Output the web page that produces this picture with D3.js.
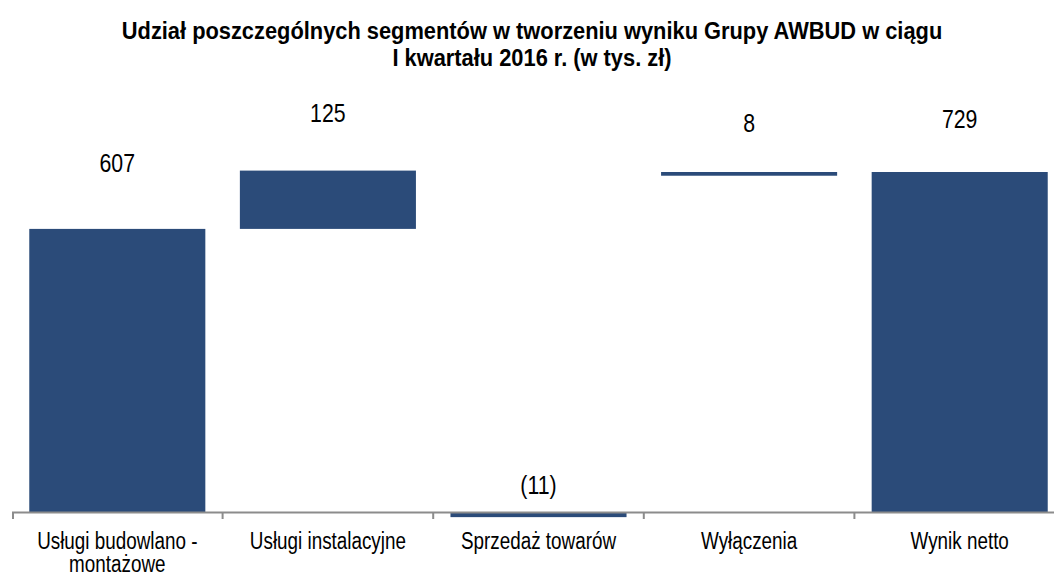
<!DOCTYPE html>
<html>
<head>
<meta charset="utf-8">
<script src="https://cdn.jsdelivr.net/npm/d3@7/dist/d3.min.js"></script>
<style>
  body { margin: 0; background: #fff; }
  svg { display: block; }
  text { font-family: "Liberation Sans", Arial, sans-serif; fill: #000; }
</style>
</head>
<body>
<svg></svg>
<script>
// segment names (first one wraps onto two lines)
var categories = ["Usługi budowlano - montażowe", "Usługi instalacyjne", "Sprzedaż towarów", "Wyłączenia", "Wynik netto"];
var categoryLines = [["Usługi budowlano -", "montażowe"], ["Usługi instalacyjne"], ["Sprzedaż towarów"], ["Wyłączenia"], ["Wynik netto"]];
// contribution of each segment (tys. zł)
var values = [607, 125, -11, 8, 729];
// level each bar starts from, as drawn in the picture
var bases = [0, 607, 0, 721, 0];
// vertical nudge of the value labels above the bar tops
var labelDy = [-57, -49, -18, -40, -44];

var titleLines = ["Udział poszczególnych segmentów w tworzeniu wyniku Grupy AWBUD w ciągu",
                  "I kwartału 2016 r. (w tys. zł)"];

var width = 1054, height = 575;
var narrow = 0.82; // squeeze to imitate a condensed face
var svg = d3.select("svg").attr("width", width).attr("height", height);

var x = d3.scaleBand()
    .domain(categories)
    .range([12, 1065])
    .paddingInner(0.164)
    .paddingOuter(0.082);

var y = d3.scaleLinear()
    .domain([0, 729])
    .range([512, 172]);

function fmt(v) {
  return v < 0 ? "(" + Math.abs(v) + ")" : String(v);
}

function place(px, py, sx) {
  return "translate(" + px + "," + py + ") scale(" + (sx || narrow) + ",1)";
}

// title
svg.append("text")
    .attr("transform", place(532, 39, 0.91))
    .attr("text-anchor", "middle")
    .style("font-weight", "bold")
    .style("font-size", "24px")
    .selectAll("tspan")
    .data(titleLines)
    .enter()
    .append("tspan")
    .attr("x", 0)
    .attr("dy", function (d, i) { return i === 0 ? 0 : 27; })
    .text(function (d) { return d; });

// bars
svg.selectAll("rect.bar")
  .data(categories)
  .enter()
  .append("rect")
  .attr("class", "bar")
  .attr("x", function (d) { return x(d); })
  .attr("width", x.bandwidth())
  .attr("y", function (d, i) {
    var a = bases[i], b = bases[i] + values[i];
    return Math.min(y(a), y(b));
  })
  .attr("height", function (d, i) {
    var a = bases[i], b = bases[i] + values[i];
    return Math.abs(y(a) - y(b));
  })
  .attr("fill", "#2b4b79");

// axis line and ticks at band boundaries
var half = x.step() * x.paddingInner() / 2;
svg.append("line")
    .attr("x1", x.range()[0])
    .attr("x2", width)
    .attr("y1", y(0) + 0.5)
    .attr("y2", y(0) + 0.5)
    .attr("stroke", "#8c8c8c")
    .attr("stroke-width", 2);

svg.selectAll("line.tick")
  .data(categories)
  .enter()
  .append("line")
  .attr("class", "tick")
  .attr("x1", function (d, i) { return i === 0 ? x.range()[0] + 1 : x(d) - half; })
  .attr("x2", function (d, i) { return i === 0 ? x.range()[0] + 1 : x(d) - half; })
  .attr("y1", y(0))
  .attr("y2", y(0) + 7)
  .attr("stroke", "#8c8c8c")
  .attr("stroke-width", 2);

// value labels
svg.selectAll("text.value")
  .data(categories)
  .enter()
  .append("text")
  .attr("class", "value")
  .attr("transform", function (d, i) {
    var top = Math.max(0, bases[i], bases[i] + values[i]);
    return place(x(d) + x.bandwidth() / 2, y(top) + labelDy[i]);
  })
  .attr("text-anchor", "middle")
  .style("font-size", "26px")
  .text(function (d, i) { return fmt(values[i]); });

// category labels
svg.selectAll("text.cat")
  .data(categories)
  .enter()
  .append("text")
  .attr("class", "cat")
  .attr("text-anchor", "middle")
  .attr("transform", function (d) { return place(x(d) + x.bandwidth() / 2, 549); })
  .style("font-size", "23px")
  .each(function (d, i) {
    d3.select(this).selectAll("tspan")
      .data(categoryLines[i])
      .enter()
      .append("tspan")
      .attr("x", 0)
      .attr("dy", function (t, j) { return j === 0 ? 0 : 23; })
      .text(function (t) { return t; });
  });
</script>
</body>
</html>
